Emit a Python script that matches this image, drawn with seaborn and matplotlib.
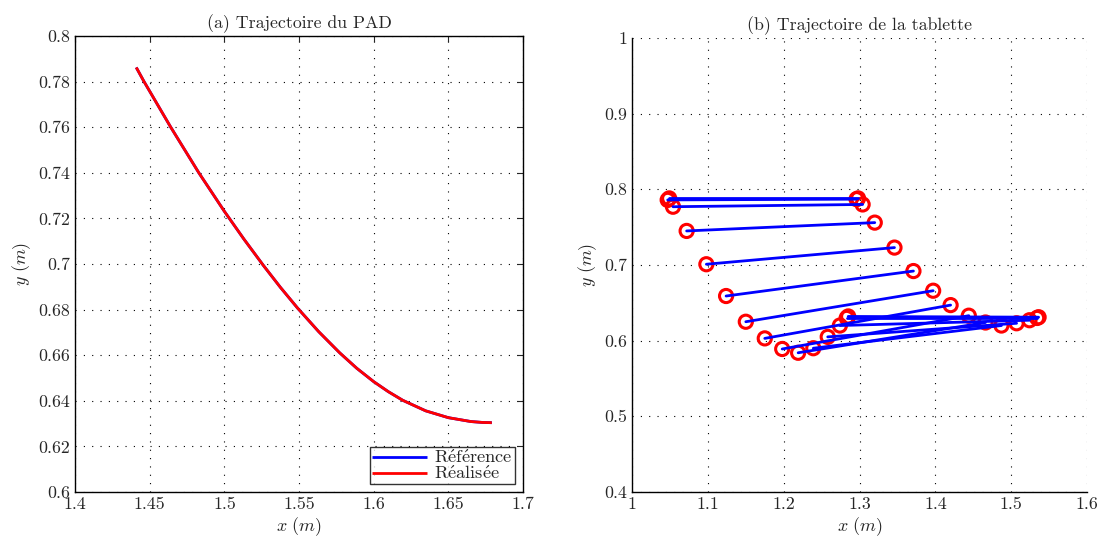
import numpy as np
import pandas as pd
import matplotlib
matplotlib.use("Agg")
import matplotlib.pyplot as plt
from matplotlib.ticker import FuncFormatter
import seaborn as sns

# ---- data: (a) PAD trajectory ----
pad_x = [1.4410, 1.4462, 1.4640, 1.4829, 1.5000, 1.5131, 1.5262, 1.5376, 1.5491, 1.5632,
         1.5773, 1.5886, 1.6000, 1.6098, 1.6195, 1.6348, 1.6500, 1.6651, 1.6730, 1.6791]
pad_y = [0.7862, 0.7800, 0.7601, 0.7400, 0.7231, 0.7109, 0.6993, 0.6897, 0.6806, 0.6703,
         0.6610, 0.6543, 0.6484, 0.6440, 0.6402, 0.6356, 0.6326, 0.6309, 0.6305, 0.6304]

# ---- data: (b) tablet trajectory (left end / right end of each segment) ----
tab_xL = [1.047, 1.049, 1.054, 1.072, 1.098, 1.124, 1.150, 1.175, 1.198, 1.219, 1.239, 1.258, 1.274, 1.285, 1.283]
tab_yL = [0.786, 0.788, 0.777, 0.745, 0.701, 0.659, 0.625, 0.603, 0.589, 0.584, 0.590, 0.605, 0.620, 0.632, 0.630]
tab_xR = [1.296, 1.298, 1.304, 1.320, 1.346, 1.371, 1.397, 1.420, 1.444, 1.466, 1.487, 1.507, 1.524, 1.536, 1.534]
tab_yR = [0.787, 0.788, 0.780, 0.756, 0.723, 0.692, 0.666, 0.647, 0.633, 0.624, 0.620, 0.623, 0.627, 0.631, 0.630]

ticks_a_x = [1.4, 1.45, 1.5, 1.55, 1.6, 1.65, 1.7]
ticks_a_y = [0.6, 0.62, 0.64, 0.66, 0.68, 0.7, 0.72, 0.74, 0.76, 0.78, 0.8]
ticks_b_x = [1, 1.1, 1.2, 1.3, 1.4, 1.5, 1.6]
ticks_b_y = [0.4, 0.5, 0.6, 0.7, 0.8, 0.9, 1]

label_ref = r'R$\mathrm{\acute{e}}$f$\mathrm{\acute{e}}$rence'
label_real = r'R$\mathrm{\acute{e}}$alis$\mathrm{\acute{e}}$e'

sns.set_style("white")
plt.rcParams['font.family'] = ['cmr10', 'DejaVu Serif']
plt.rcParams['mathtext.fontset'] = 'cm'
plt.rcParams['axes.unicode_minus'] = False
plt.rcParams['axes.formatter.use_mathtext'] = True

fig = plt.figure(figsize=(11.1, 5.38), dpi=100)
ax1 = fig.add_axes([0.0676, 0.0855, 0.4036, 0.8476])
ax2 = fig.add_axes([0.5694, 0.0855, 0.41, 0.8439])

fmt = FuncFormatter(lambda v, p: ('%g' % round(v, 4)))

# ---- (a) ----
df_pad = pd.DataFrame({'x': pad_x, 'y': pad_y})
sns.lineplot(data=df_pad, x='x', y='y', sort=False, estimator=None, ax=ax1,
             color='#0000ff', linewidth=2, label=label_ref)
sns.lineplot(data=df_pad, x='x', y='y', sort=False, estimator=None, ax=ax1,
             color='#ff0000', linewidth=2, label=label_real)
for ln in ax1.lines:
    ln.set_solid_joinstyle('round')
    ln.set_solid_capstyle('butt')
ax1.set_xlim(1.4, 1.7)
ax1.set_ylim(0.6, 0.8)
ax1.set_xticks(ticks_a_x)
ax1.set_yticks(ticks_a_y)
ax1.set_title('(a) Trajectoire du PAD', fontsize=12.8, pad=6)
leg = ax1.legend(loc='lower right', fontsize=13.2, frameon=True, fancybox=False,
                 edgecolor='black', handlelength=3.0, borderpad=0.1,
                 labelspacing=-0.12, handletextpad=0.4, borderaxespad=0.45)
leg.get_frame().set_linewidth(1.0)
ax1.tick_params(direction='in', top=True, right=True, length=4, labelsize=12.8, width=0.8)

# ---- (b) ----
n = len(tab_xL)
seg = pd.DataFrame({
    'seg': list(range(n)) * 2,
    'x': tab_xL + tab_xR,
    'y': tab_yL + tab_yR,
})
pts = pd.DataFrame({'x': tab_xL + tab_xR, 'y': tab_yL + tab_yR})
sns.scatterplot(data=pts, x='x', y='y', ax=ax2, marker='o', s=90,
                facecolor='none', edgecolor='#ff0000', linewidth=2.2, zorder=3)
sns.lineplot(data=seg, x='x', y='y', units='seg', estimator=None, sort=False,
             ax=ax2, color='#0000ff', linewidth=2, zorder=4)
ax2.set_xlim(1, 1.6)
ax2.set_ylim(0.4, 1)
ax2.set_xticks(ticks_b_x)
ax2.set_yticks(ticks_b_y)
ax2.set_title('(b) Trajectoire de la tablette', fontsize=12.8, pad=6)
ax2.tick_params(direction='in', length=4, labelsize=12.8, width=0.8)
ax2.spines['top'].set_visible(False)
ax2.spines['right'].set_visible(False)

for ax in (ax1, ax2):
    ax.grid(True, linestyle=(0, (1, 6.5)), color='black', linewidth=0.8)
    ax.xaxis.set_major_formatter(fmt)
    ax.yaxis.set_major_formatter(fmt)
    ax.set_xlabel(r'$x\ (m)$', fontsize=13, labelpad=2)
    ax.set_ylabel(r'$y\ (m)$', fontsize=13, labelpad=4)
    for s in ax.spines.values():
        s.set_color('black')
        s.set_linewidth(1.0)
    ax.set_axisbelow(True)

if ax2.get_legend() is not None:
    ax2.get_legend().remove()

fig.savefig('out.png', dpi=100)
